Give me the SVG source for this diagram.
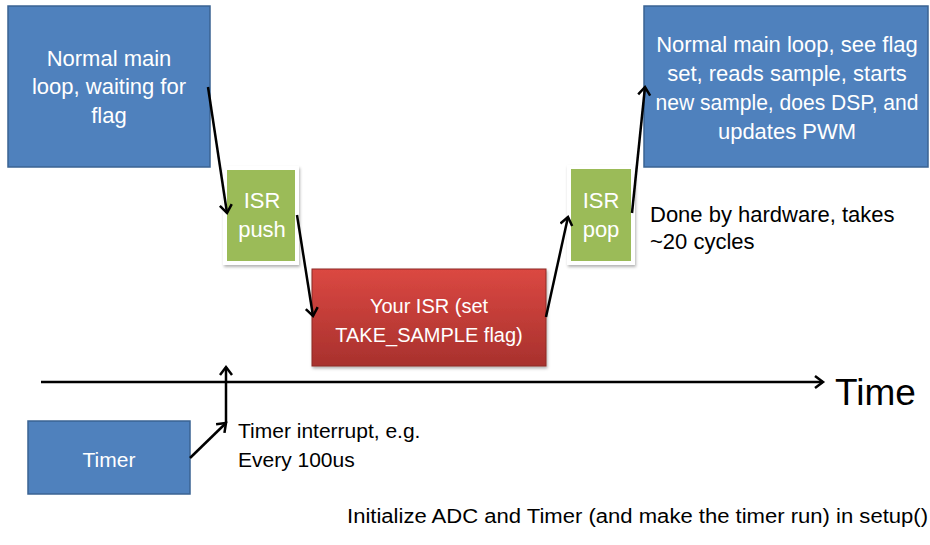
<svg xmlns="http://www.w3.org/2000/svg" width="930" height="545" viewBox="0 0 930 545">
<style>
  .blue { fill: #4F81BD; stroke: #3A6393; stroke-width: 1.5; }
  .green { fill: #9BBB59; stroke: #FFFFFF; stroke-width: 4; filter: url(#sh); }
  .red { fill: url(#redg); stroke: #8C2A27; stroke-width: 1; filter: url(#sh); }
  .wt { font-family: "Liberation Sans", Arial, sans-serif; font-size: 22px; fill: #FFFFFF; text-anchor: middle; }
  .bt { font-family: "Liberation Sans", Arial, sans-serif; font-size: 21px; fill: #000000; }
  .conn { stroke: #000000; stroke-width: 2.5; fill: none; marker-end: url(#ah); }
</style>
<defs>
  <marker id="ah" markerUnits="userSpaceOnUse" markerWidth="16" markerHeight="16" refX="10" refY="7" orient="auto">
    <path d="M2,1 L10,7 L2,13" fill="none" stroke="#000" stroke-width="2.5"/>
  </marker>
  <linearGradient id="redg" x1="0" y1="0" x2="0" y2="1">
    <stop offset="0" stop-color="#DB4842"/>
    <stop offset="1" stop-color="#A8312D"/>
  </linearGradient>
  <filter id="sh" x="-20%" y="-20%" width="140%" height="140%">
    <feDropShadow dx="1" dy="2" stdDeviation="1.5" flood-color="#000" flood-opacity="0.3"/>
  </filter>
</defs>

<g id="main-loop-wait">
  <rect class="blue" x="8" y="6" width="202" height="161"/>
  <text class="wt" x="109" y="66">Normal main</text>
  <text class="wt" x="109" y="94">loop, waiting for</text>
  <text class="wt" x="109" y="123">flag</text>
</g>

<g id="isr-push">
  <rect class="green" x="225" y="168" width="72" height="95"/>
  <text class="wt" x="262" y="208">ISR</text>
  <text class="wt" x="262" y="237">push</text>
</g>

<g id="your-isr">
  <rect class="red" x="312" y="269" width="234" height="97"/>
  <text class="wt" x="429" y="313" style="font-size:20px">Your ISR (set</text>
  <text class="wt" x="429" y="342" style="font-size:20px">TAKE_SAMPLE flag)</text>
</g>

<g id="isr-pop">
  <rect class="green" x="569" y="167" width="64" height="96"/>
  <text class="wt" x="601" y="208">ISR</text>
  <text class="wt" x="601" y="237">pop</text>
</g>

<g id="main-loop-process">
  <rect class="blue" x="644" y="6" width="284" height="161"/>
  <text class="wt" x="787" y="52">Normal main loop, see flag</text>
  <text class="wt" x="787" y="81">set, reads sample, starts</text>
  <text class="wt" x="787" y="110" textLength="263" lengthAdjust="spacingAndGlyphs">new sample, does DSP, and</text>
  <text class="wt" x="787" y="139">updates PWM</text>
</g>

<g id="timer">
  <rect class="blue" x="28" y="421" width="162" height="73"/>
  <text class="wt" x="109" y="467" style="font-size:21px">Timer</text>
</g>

<g id="connectors">
  <line class="conn" x1="208" y1="87" x2="227" y2="213"/>
  <line class="conn" x1="297" y1="215" x2="313" y2="316"/>
  <line class="conn" x1="546" y1="317" x2="568" y2="217"/>
  <line class="conn" x1="632" y1="213" x2="645" y2="87"/>
  <line class="conn" x1="190" y1="458" x2="226" y2="423"/>
  <line class="conn" x1="226" y1="423" x2="226" y2="367"/>
  <line class="conn" x1="41" y1="382" x2="823" y2="382"/>
</g>

<g id="labels">
  <text x="835" y="405" style="font-family:'Liberation Sans', Arial, sans-serif; font-size:37px; fill:#000">Time</text>
  <text class="bt" x="650" y="222" style="font-size:22px">Done by hardware, takes</text>
  <text class="bt" x="650" y="249" style="font-size:22px">~20 cycles</text>
  <text class="bt" x="238" y="438">Timer interrupt, e.g.</text>
  <text class="bt" x="238" y="467">Every 100us</text>
  <text class="bt" x="347" y="523" style="font-size:20px" textLength="581" lengthAdjust="spacingAndGlyphs">Initialize ADC and Timer (and make the timer run) in setup()</text>
</g>
</svg>
